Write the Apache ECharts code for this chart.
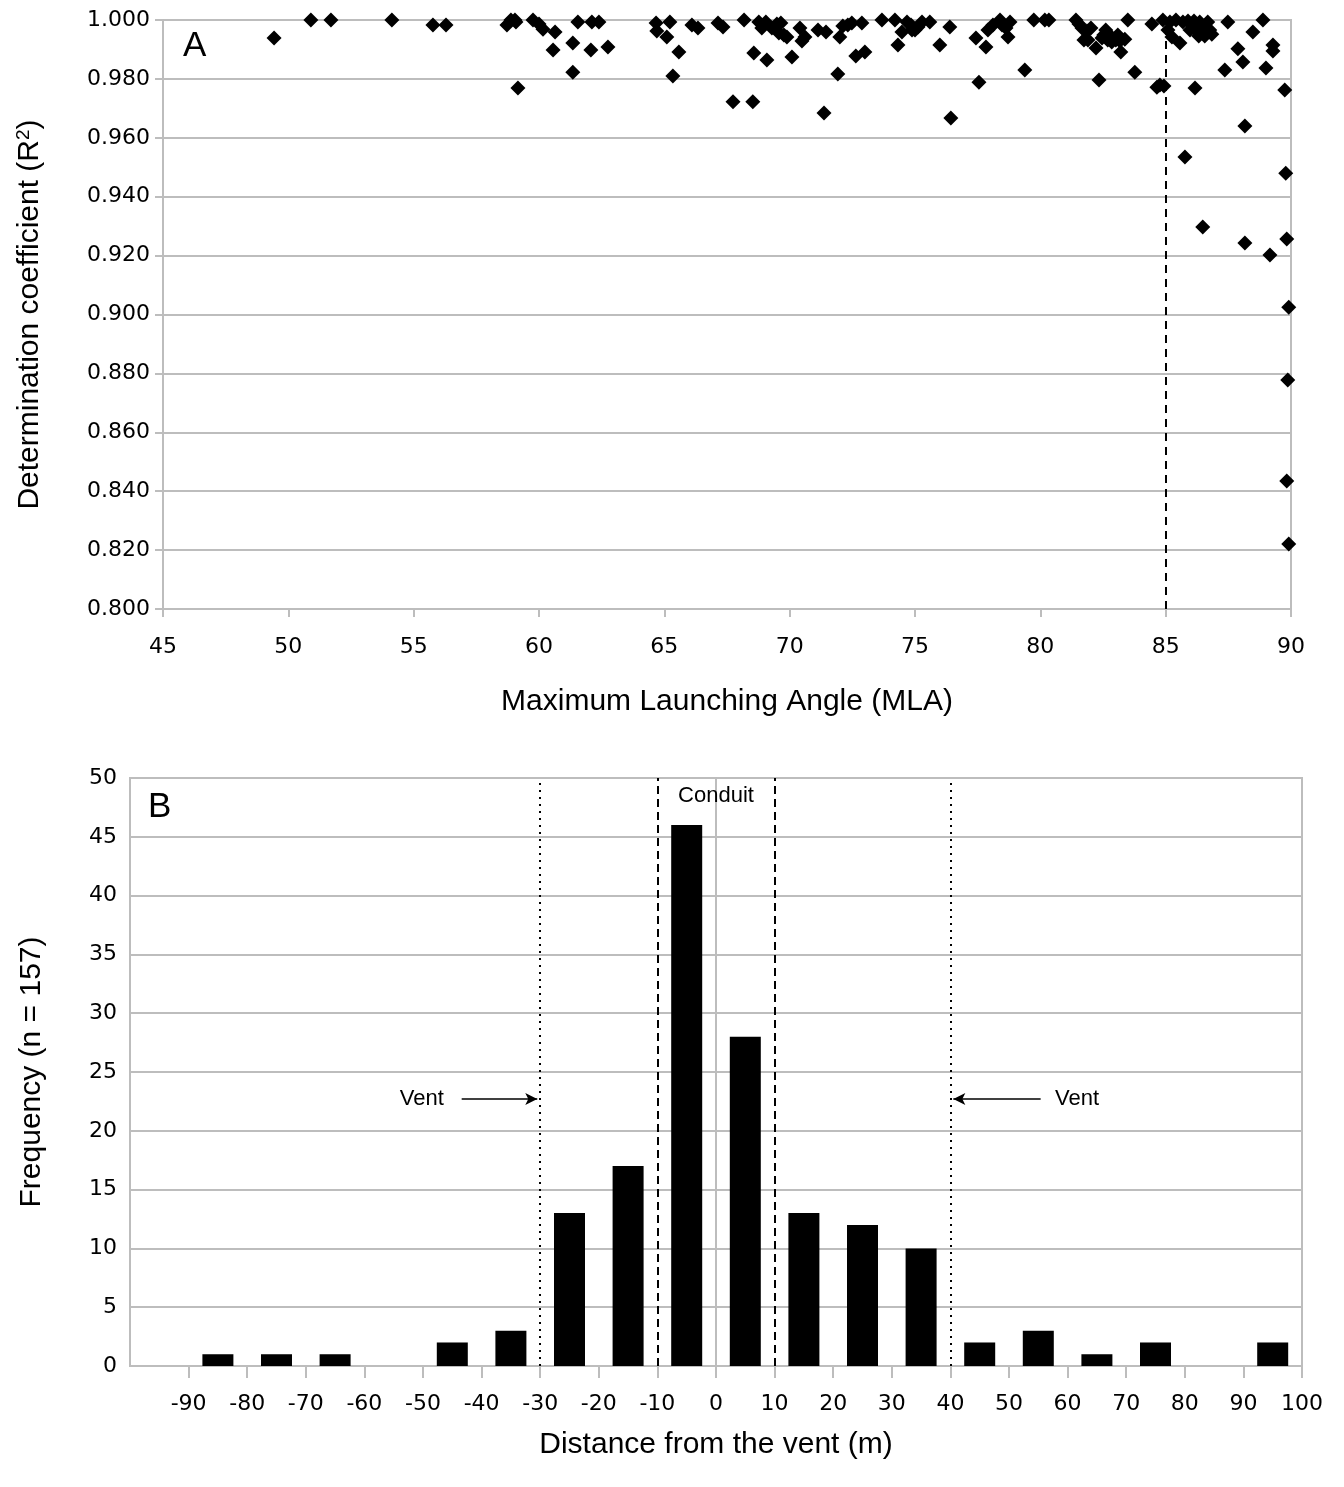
<!DOCTYPE html>
<html>
<head>
<meta charset="utf-8">
<script src="https://cdn.jsdelivr.net/npm/echarts@6/dist/echarts.min.js"></script>
<style>html,body{margin:0;padding:0;background:#fff;}#c{width:1344px;height:1487px;}</style>
</head>
<body>
<div id="c"></div>
<script>
// Panel A: Maximum Launching Angle vs determination coefficient
const mla = [49.43,50.90,51.70,54.13,55.77,56.29,58.72,58.88,59.08,59.16,59.76,60.00,60.16,60.56,60.64,61.35,61.35,61.55,62.07,62.11,62.39,62.75,64.67,64.70,65.22,65.10,65.34,65.58,66.10,66.34,67.14,67.34,67.74,68.18,68.53,68.57,68.77,68.89,69.05,69.09,69.49,69.57,69.65,69.77,69.89,70.09,70.41,70.49,70.61,71.13,71.37,71.45,71.92,72.00,72.12,72.32,72.48,72.64,72.88,73.00,73.68,74.20,74.32,74.48,74.68,74.84,75.00,75.12,75.28,75.59,75.99,76.43,76.39,77.43,77.55,77.83,77.91,78.11,78.39,78.63,78.71,78.79,79.38,79.74,80.18,80.34,81.42,81.54,81.66,81.86,81.90,82.02,82.22,82.34,82.46,82.53,82.61,82.85,83.01,83.17,83.21,83.37,83.49,83.77,84.45,84.65,84.77,84.93,84.89,85.09,85.25,85.41,85.57,85.69,85.89,85.97,86.13,86.21,86.32,86.48,86.68,86.76,86.84,85.77,86.17,86.48,87.36,87.48,87.88,88.08,88.16,88.16,88.48,88.88,89.00,89.16,89.28,89.28,89.75,89.79,89.83,89.91,89.87,89.83,89.91,81.74,82.69,83.09,85.17,86.36,86.05,69.29,74.88,78.47,82.73,86.56,59.04];
const r2 = [0.9939,1.000,1.000,1.000,0.9983,0.9983,0.9983,1.000,0.9993,0.9769,1.000,0.9986,0.9969,0.9898,0.9959,0.9823,0.9922,0.9993,0.9898,0.9993,0.9993,0.9908,0.9990,0.9963,0.9993,0.9942,0.9810,0.9891,0.9983,0.9973,0.9990,0.9976,0.9722,1.000,0.9722,0.9888,0.9993,0.9973,0.9993,0.9864,0.9986,0.9956,0.9990,0.9949,0.9942,0.9874,0.9973,0.9929,0.9942,0.9966,0.9684,0.9959,0.9817,0.9942,0.9980,0.9983,0.9990,0.9878,0.9990,0.9891,1.000,1.000,0.9915,0.9959,0.9993,0.9983,0.9966,0.9976,0.9993,0.9993,0.9915,0.9667,0.9976,0.9939,0.9789,0.9908,0.9966,0.9983,1.000,0.9973,0.9942,0.9993,0.9830,1.000,1.000,1.000,1.000,0.9986,0.9973,0.9963,0.9932,0.9973,0.9905,0.9796,0.9939,0.9949,0.9966,0.9925,0.9932,0.9929,0.9891,0.9935,1.000,0.9823,0.9986,0.9772,0.9779,0.9776,1.000,0.9966,0.9942,1.000,0.9922,0.9993,0.9997,0.9966,0.9997,0.9966,0.9946,0.9966,0.9993,0.9966,0.9952,0.9535,0.9769,0.9297,0.9830,0.9993,0.9902,0.9857,0.9640,0.9243,0.9959,1.000,0.9837,0.9202,0.9915,0.9895,0.9762,0.9480,0.9256,0.9025,0.8778,0.8435,0.8221,0.9932,0.9932,0.9949,0.9993,0.9993,0.9983,0.9973,0.9966,0.9983,0.9952,0.9946,1.000];
const mlaThreshold = 85;

// Panel B: distance from the vent histogram
const distCenters = [-85,-75,-65,-55,-45,-35,-25,-15,-5,5,15,25,35,45,55,65,75,85,95];
const freq =        [1,1,1,0,2,3,13,17,46,28,13,12,10,2,3,1,2,0,2];
const conduitEdges = [-10,10];
const ventEdges = [-30,40];

const gray = '#bdbdbd';
const lblFont = 'DejaVu Sans';
const nameFont = 'Liberation Sans';

const scatterData = mla.map((x,i)=>[x, r2[i]]);
const barData = distCenters.map((x,i)=>[x, freq[i]]);

const chart = echarts.init(document.getElementById('c'), null, {renderer:'canvas'});
chart.setOption({
  animation:false,
  backgroundColor:'#fff',
  grid:[
    {left:163, top:20, width:1128, height:589, show:true, borderColor:gray, borderWidth:2, backgroundColor:'transparent'},
    {left:130, top:778, width:1172, height:588, show:true, borderColor:gray, borderWidth:2, backgroundColor:'transparent'}
  ],
  xAxis:[
    {gridIndex:0, type:'value', min:45, max:90, interval:5,
     axisLine:{show:true, onZero:false, lineStyle:{color:gray, width:2}},
     axisTick:{show:true, length:8, lineStyle:{color:gray, width:2}},
     splitLine:{show:false},
     axisLabel:{color:'#000', fontFamily:lblFont, fontSize:22, margin:27},
     name:'Maximum Launching Angle (MLA)', nameLocation:'middle', nameGap:78,
     nameTextStyle:{color:'#000', fontFamily:nameFont, fontSize:30}},
    {gridIndex:1, type:'value', min:-100, max:100, interval:10,
     axisLine:{show:true, onZero:false, lineStyle:{color:gray, width:2}},
     axisTick:{show:true, length:12, lineStyle:{color:gray, width:2}},
     splitLine:{show:false},
     axisLabel:{color:'#000', fontFamily:lblFont, fontSize:22, margin:27, showMinLabel:false},
     name:'Distance from the vent (m)', nameLocation:'middle', nameGap:64,
     nameTextStyle:{color:'#000', fontFamily:nameFont, fontSize:30}}
  ],
  yAxis:[
    {gridIndex:0, type:'value', min:0.8, max:1.0, interval:0.02,
     axisLine:{show:true, lineStyle:{color:gray, width:2}},
     axisTick:{show:true, length:8, lineStyle:{color:gray, width:2}},
     splitLine:{show:true, lineStyle:{color:gray, width:2}},
     axisLabel:{color:'#000', fontFamily:lblFont, fontSize:22, margin:13, formatter:v=>v.toFixed(3)},
     name:'Determination coefficient (R{sup|2})', nameLocation:'middle', nameGap:117, nameRotate:90,
     nameTextStyle:{color:'#000', fontFamily:nameFont, fontSize:30,
       rich:{sup:{fontFamily:nameFont, fontSize:19, color:'#000', verticalAlign:'bottom', padding:[0,0,13,0]}}}},
    {gridIndex:1, type:'value', min:0, max:50, interval:5,
     axisLine:{show:true, lineStyle:{color:gray, width:2}},
     axisTick:{show:true, length:10, lineStyle:{color:gray, width:2}},
     splitLine:{show:true, lineStyle:{color:gray, width:2}},
     axisLabel:{color:'#000', fontFamily:lblFont, fontSize:22, margin:13},
     name:'Frequency (n = 157)', nameLocation:'middle', nameGap:83, nameRotate:90,
     nameTextStyle:{color:'#000', fontFamily:nameFont, fontSize:30}}
  ],
  series:[
    {type:'scatter', xAxisIndex:0, yAxisIndex:0, data:scatterData,
     symbol:'diamond', symbolSize:15, itemStyle:{color:'#000', opacity:1}, z:5,
     markLine:{silent:true, symbol:'none', label:{show:false},
       lineStyle:{color:'#000', width:2, type:[8,6]},
       data:[{xAxis:mlaThreshold}]}},
    {type:'bar', xAxisIndex:1, yAxisIndex:1, data:barData, barWidth:31,
     itemStyle:{color:'#000'}, z:3,
     markLine:{silent:true, symbol:'none', label:{show:false},
       data:[
         {xAxis:ventEdges[0], lineStyle:{color:'#000', width:2, type:[2,5]}},
         {xAxis:ventEdges[1], lineStyle:{color:'#000', width:2, type:[2,5]}},
         {xAxis:conduitEdges[0], lineStyle:{color:'#000', width:2, type:[8,5]}},
         {xAxis:conduitEdges[1], lineStyle:{color:'#000', width:2, type:[8,5]}},
         [{coord:[-43.4,22.7], symbol:'none', lineStyle:{color:'#000', width:1.5, type:'solid'}},
          {coord:[-30.5,22.7], symbol:'arrow', symbolSize:[9,12]}],
         [{coord:[55.4,22.7], symbol:'none', lineStyle:{color:'#000', width:1.5, type:'solid'}},
          {coord:[40.5,22.7], symbol:'arrow', symbolSize:[9,12]}]
       ]},
     markPoint:{silent:true, symbol:'circle', symbolSize:0,
       label:{show:true, position:'inside', color:'#000', fontFamily:nameFont, fontSize:22},
       data:[
         {coord:[0,48.5], label:{formatter:'Conduit'}},
         {coord:[-50.2,22.7], label:{formatter:'Vent'}},
         {coord:[61.6,22.7], label:{formatter:'Vent'}}
       ]}}
  ],
  graphic:[
    {type:'text', left:183, top:29, style:{text:'A', fill:'#000', font:'35px "Liberation Sans"'}},
    {type:'text', left:148, top:790, style:{text:'B', fill:'#000', font:'35px "Liberation Sans"'}}
  ]
});
</script>
</body>
</html>
